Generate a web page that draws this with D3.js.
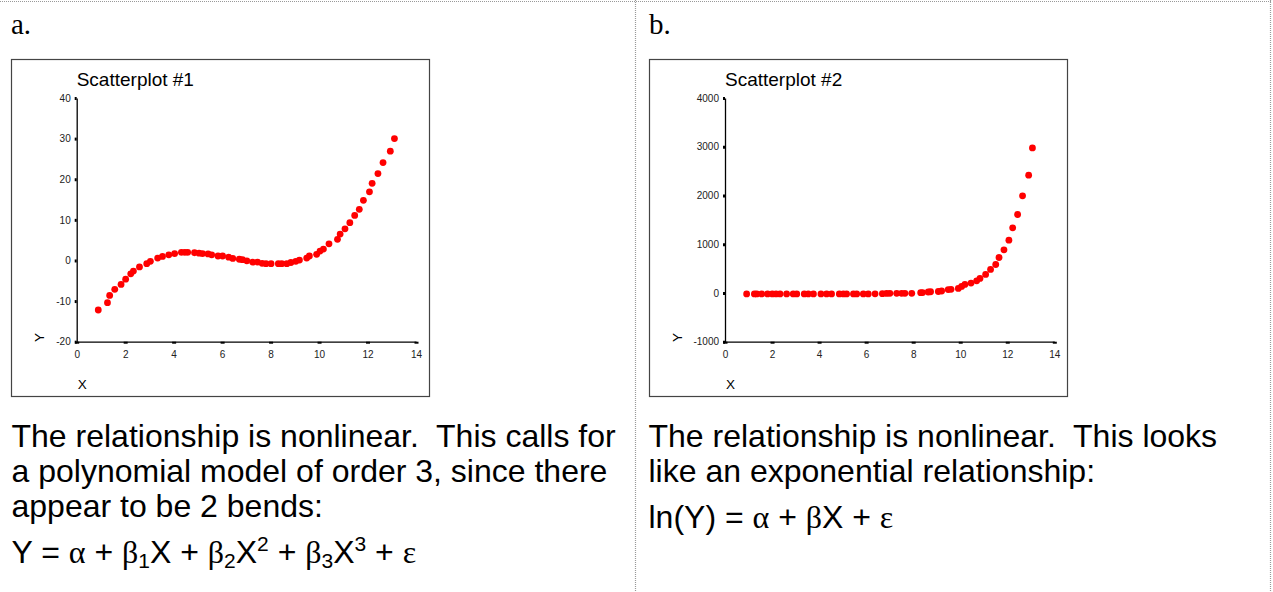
<!DOCTYPE html>
<html>
<head>
<meta charset="utf-8">
<script src="https://cdn.jsdelivr.net/npm/d3@7"></script>
<style>
  body { margin: 0; background: #fff; }
  text { white-space: pre; }
  .tick text { font-family: "Liberation Sans", Arial, sans-serif; font-size: 10px; fill: #222; }
  .axis path { stroke: #000; stroke-width: 1.3; }
  .yAxis .tick line { stroke: #000; stroke-width: 3; }
  .xAxis .tick line { stroke: #000; stroke-width: 4; }
</style>
</head>
<body>
<div id="plotSect"></div>
<script>
/* global d3 */

let cubicX = [0.89, 1.27, 1.36, 1.57, 1.83, 2.02, 2.23, 2.34, 2.59, 2.89, 3.04, 3.34, 3.54, 3.80, 4.04,
    4.32, 4.46, 4.58, 4.86, 5.05, 5.19, 5.42, 5.57, 5.83, 6.02, 6.27, 6.44, 6.71, 6.84, 7.02,
    7.26, 7.46, 7.65, 7.81, 8.02, 8.32, 8.46, 8.67, 8.84, 9.04, 9.19, 9.49, 9.60, 9.90, 10.04,
    10.18, 10.41, 10.76, 10.87, 11.07, 11.27, 11.47, 11.66, 11.83, 12.08, 12.19, 12.43, 12.64, 12.94, 13.11];
let cubicY = [-12.2, -10.4, -8.6, -7.1, -5.9, -4.6, -3.3, -2.6, -1.6, -0.8, -0.2, 0.6, 1.0, 1.4, 1.7,
    2.0, 2.0, 2.0, 1.9, 1.8, 1.7, 1.6, 1.4, 1.1, 1.1, 0.8, 0.5, 0.3, 0.2, -0.1,
    -0.4, -0.4, -0.7, -0.8, -0.8, -0.8, -0.8, -0.8, -0.5, -0.2, 0.1, 0.6, 1.1, 1.5, 2.3,
    2.8, 4.1, 5.2, 6.5, 7.8, 9.3, 11.1, 12.6, 14.8, 16.9, 19.0, 21.4, 24.1, 26.9, 30.0];

let expX = [0.92, 1.25, 1.35, 1.56, 1.81, 2.01, 2.17, 2.34, 2.62, 2.90, 3.05, 3.37, 3.54, 3.76, 4.08,
    4.32, 4.53, 4.86, 5.03, 5.17, 5.46, 5.60, 5.88, 6.09, 6.38, 6.69, 6.87, 7.01, 7.30, 7.51,
    7.65, 7.94, 8.32, 8.40, 8.64, 8.74, 9.07, 9.21, 9.49, 9.61, 9.92, 10.06, 10.20, 10.46, 10.70,
    10.84, 11.08, 11.29, 11.51, 11.65, 11.86, 12.07, 12.23, 12.44, 12.65, 12.91, 13.07];
let expY = [-20, -20, -20, -20, -20, -20, -20, -20, -20, -20, -20, -20, -20, -20, -20,
    -20, -20, -20, -20, -20, -20, -20, -20, -20, -18, -15, -10, -8, -8, -8,
    -8, -8, 5, 8, 20, 25, 30, 40, 70, 75, 93, 134, 175, 202, 250,
    298, 380, 482, 584, 728, 885, 1083, 1336, 1610, 1992, 2416, 2976];

let xTicks = [0, 2, 4, 6, 8, 10, 12, 14];
let yTicks1 = [-20, -10, 0, 10, 20, 30, 40];
let yTicks2 = [-1000, 0, 1000, 2000, 3000, 4000];

let titles = ["Scatterplot #1", "Scatterplot #2"];
let panelLetters = ["a.", "b."];
let textA = ["The relationship is nonlinear.  This calls for",
    "a polynomial model of order 3, since there",
    "appear to be 2 bends:"];
let textB = ["The relationship is nonlinear.  This looks",
    "like an exponential relationship:"];

// Page setup //

let SVGwidth = 1273,
    SVGheight = 592;

let sans = "'Liberation Sans', Arial, sans-serif",
    serif = "'Liberation Serif', 'Times New Roman', serif";

let svg = d3.select("#plotSect").append("svg")
    .attr("width", SVGwidth)
    .attr("height", SVGheight);

// dotted table borders
let borderPaths = ["M0,1.5 H1271", "M635.5,0 V592", "M1270.5,0 V592"];
svg.selectAll(".border")
    .data(borderPaths)
    .enter().append("path")
    .attr("class", "border")
    .attr("d", function(d) { return d; })
    .style("fill", "none")
    .style("stroke", "#999")
    .style("stroke-width", 1.2)
    .style("stroke-dasharray", "1,1");

// one scatterplot box //
function drawScatter(left, xs, ys, yTicks, yDomain, title) {
    let frameW = 418, frameH = 337, top = 59;
    let plotLeft = left + (yDomain[1] > 100 ? 76 : 65.7);
    let plotRight = plotLeft + (yDomain[1] > 100 ? 329.3 : 339.3);

    svg.append("rect")
        .attr("x", left + 0.5)
        .attr("y", top + 0.5)
        .attr("width", frameW)
        .attr("height", frameH)
        .style("fill", "#fff")
        .style("stroke", "#444")
        .style("stroke-width", 1.2);

    let xScale = d3.scaleLinear().domain([0, 14]).range([plotLeft, plotRight]);
    let yScale = d3.scaleLinear().domain(yDomain).range([341.7, 98]);

    let yAxis = d3.axisLeft(yScale)
        .tickValues(yTicks)
        .tickSize(2)
        .tickPadding(4)
        .tickSizeOuter(0)
        .tickFormat(function(d) { return d < 0 ? "-" + Math.abs(d) : d; });
    let xAxis = d3.axisBottom(xScale)
        .tickValues(xTicks)
        .tickSize(2)
        .tickPadding(7)
        .tickSizeOuter(0);

    svg.append("g")
        .attr("class", "axis yAxis")
        .attr("transform", "translate(" + plotLeft + ",0)")
        .call(yAxis);

    svg.append("g")
        .attr("class", "axis xAxis")
        .attr("transform", "translate(0," + yScale(yDomain[0]) + ")")
        .call(xAxis);

    svg.selectAll(".tick text").attr("font-family", null);

    svg.append("text")
        .attr("x", plotLeft)
        .attr("y", 86)
        .style("font-family", sans)
        .style("font-size", "19px")
        .text(title);

    svg.append("text")
        .attr("x", plotLeft + 1)
        .attr("y", 389)
        .style("font-family", sans)
        .style("font-size", "13.5px")
        .text("X");

    svg.append("text")
        .attr("transform", "translate(" + (left + 32.5) + ",342) rotate(-90)")
        .style("font-family", sans)
        .style("font-size", "13.5px")
        .text("Y");

    let pts = d3.range(xs.length).map(function(i) { return {x: xs[i], y: ys[i]}; });
    svg.append("g").selectAll(".point")
        .data(pts)
        .enter().append("circle")
        .attr("class", "point")
        .attr("r", 3.4)
        .attr("cx", function(d) { return xScale(d.x); })
        .attr("cy", function(d) { return yScale(d.y); })
        .style("fill", "#ff0000");
}

drawScatter(11, cubicX, cubicY, yTicks1, [-20, 40], titles[0]);
drawScatter(649, expX, expY, yTicks2, [-1000, 4000], titles[1]);

// panel letters
svg.selectAll(".letter")
    .data(panelLetters)
    .enter().append("text")
    .attr("class", "letter")
    .attr("x", function(d, i) { return i === 0 ? 11 : 649; })
    .attr("y", 34)
    .style("font-family", serif)
    .style("font-size", "29px")
    .text(function(d) { return d; });

// body text //
function writeLines(lines, x, y0) {
    svg.append("g").selectAll("text")
        .data(lines)
        .enter().append("text")
        .attr("x", x)
        .attr("y", function(d, i) { return y0 + i * 35; })
        .style("font-family", sans)
        .style("font-size", "32px")
        .text(function(d) { return d; });
}
writeLines(textA, 11.5, 447);
writeLines(textB, 648.5, 447);

// formulas, built from runs of text with sub and superscripts
function writeFormula(parts, x, y) {
    let t = svg.append("text")
        .attr("x", x)
        .attr("y", y)
        .style("font-size", "32px");
    let prev = 0;
    parts.forEach(function(p) {
        let shift = p[2] === "sub" ? 5 : (p[2] === "sup" ? -12 : 0);
        t.append("tspan")
            .attr("dy", shift - prev)
            .style("font-family", p[1] === "g" ? serif : sans)
            .style("font-size", p[2] ? "21px" : "32px")
            .text(p[0]);
        prev = shift;
    });
}

writeFormula([["Y = ", "s"], ["α", "g"], [" + ", "s"], ["β", "g"], ["1", "s", "sub"], ["X + ", "s"],
    ["β", "g"], ["2", "s", "sub"], ["X", "s"], ["2", "s", "sup"], [" + ", "s"],
    ["β", "g"], ["3", "s", "sub"], ["X", "s"], ["3", "s", "sup"], [" + ", "s"], ["ε", "g"]], 11.5, 563);
writeFormula([["ln(Y) = ", "s"], ["α", "g"], [" + ", "s"], ["β", "g"], ["X + ", "s"], ["ε", "g"]], 648.5, 528);
</script>
</body>
</html>
